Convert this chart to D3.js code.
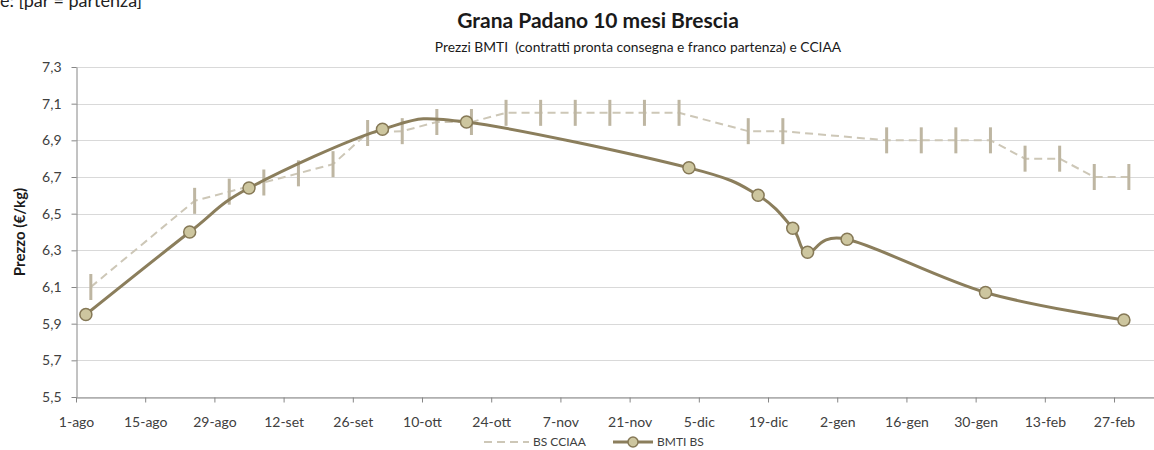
<!DOCTYPE html>
<html><head><meta charset="utf-8">
<script src="https://cdn.jsdelivr.net/npm/d3@7"></script>
<style>body{margin:0;background:#fff} svg{display:block}</style>
</head><body>
<svg id="c" width="1154" height="450"></svg>
<script>
// ---- data ----
const cciaaDates = ["2014-08-04","2014-08-25","2014-09-01","2014-09-08","2014-09-15","2014-09-22","2014-09-29","2014-10-06","2014-10-13","2014-10-20","2014-10-27","2014-11-03","2014-11-10","2014-11-17","2014-11-24","2014-12-01","2014-12-15","2014-12-22","2015-01-12","2015-01-19","2015-01-26","2015-02-02","2015-02-09","2015-02-16","2015-02-23","2015-03-02"];
const cciaaValues = [6.10,6.57,6.62,6.67,6.72,6.77,6.94,6.95,7.00,7.00,7.05,7.05,7.05,7.05,7.05,7.05,6.95,6.95,6.90,6.90,6.90,6.90,6.80,6.80,6.70,6.70];
const bmtiDates = ["2014-08-03","2014-08-24","2014-09-05","2014-10-02","2014-10-19","2014-12-03","2014-12-17","2014-12-24","2014-12-27","2015-01-04","2015-02-01","2015-03-01"];
const bmtiValues = [5.95,6.40,6.64,6.96,7.00,6.75,6.60,6.42,6.29,6.36,6.07,5.92];
const yTicks = [5.5,5.7,5.9,6.1,6.3,6.5,6.7,6.9,7.1,7.3];
const xTickDates = ["2014-08-01","2014-08-15","2014-08-29","2014-09-12","2014-09-26","2014-10-10","2014-10-24","2014-11-07","2014-11-21","2014-12-05","2014-12-19","2015-01-02","2015-01-16","2015-01-30","2015-02-13","2015-02-27"];
const xTickLabels = ["1-ago","15-ago","29-ago","12-set","26-set","10-ott","24-ott","7-nov","21-nov","5-dic","19-dic","2-gen","16-gen","30-gen","13-feb","27-feb"];
const xDomain = ["2014-08-01","2015-03-13"];
const yDomain = [5.5,7.3];
const titleText = "Grana Padano 10 mesi Brescia";
const subtitleText = "Prezzi BMTI  (contratti pronta consegna e franco partenza) e CCIAA";
const topNote = "e: [par = partenza]";
const yTitle = "Prezzo (€/kg)";
const seriesNames = ["BS CCIAA","BMTI BS"];

// ---- chart ----
const parse = d3.utcParse("%Y-%m-%d");
const FONT = "Lato, 'Open Sans', sans-serif";
const W = 1154, plotLeft = 76, plotTop = 67, plotBottom = 397;
const svg = d3.select("#c").style("font-family", FONT);

const x = d3.scaleUtc().domain(xDomain.map(parse)).range([plotLeft, plotLeft + 224 * 4.943]);
const y = d3.scaleLinear().domain(yDomain).range([plotBottom, plotTop]);

// gridlines
svg.append("g").selectAll("line").data(yTicks).join("line")
  .attr("x1", plotLeft).attr("x2", W)
  .attr("y1", d => Math.round(y(d)) + 0.5).attr("y2", d => Math.round(y(d)) + 0.5)
  .attr("stroke", "#d9d9d9").attr("stroke-width", 1);

// y axis
const yAxis = svg.append("g").attr("transform", `translate(${plotLeft + 0.5},0)`)
  .call(d3.axisLeft(y).tickValues(yTicks).tickSize(5).tickSizeOuter(0).tickPadding(10)
    .tickFormat(d => d3.format(".1f")(d).replace(".", ",")));
yAxis.select(".domain").attr("stroke", "#868686");
yAxis.selectAll(".tick line").attr("stroke", "#868686");
yAxis.selectAll(".tick text").attr("fill", "#404040").style("font-size", "14px").style("font-family", FONT);

// x axis
const xAxis = svg.append("g").attr("transform", `translate(0,${plotBottom + 0.5})`)
  .call(d3.axisBottom(x).tickValues(xTickDates.map(parse)).tickSize(5).tickSizeOuter(0).tickPadding(15)
    .tickFormat((d, i) => xTickLabels[i]));
xAxis.select(".domain").attr("stroke", "#868686");
xAxis.selectAll(".tick line").attr("stroke", "#868686");
xAxis.selectAll(".tick text").attr("fill", "#404040").style("font-size", "14px").style("font-family", FONT);

// CCIAA dashed line with bar markers
const cciaa = cciaaDates.map((d, i) => ({ d: parse(d), v: cciaaValues[i] }));
svg.append("path").datum(cciaa)
  .attr("d", d3.line().x(p => x(p.d)).y(p => y(p.v)))
  .attr("fill", "none").attr("stroke", "#cdc7b7").attr("stroke-width", 2).attr("stroke-dasharray", "8,5");
svg.append("g").selectAll("rect").data(cciaa).join("rect")
  .attr("x", p => x(p.d) - 1.5).attr("y", p => y(p.v) - 13)
  .attr("width", 3).attr("height", 26).attr("fill", "#beb6a2");

// BMTI smooth line with circles
const bmti = bmtiDates.map((d, i) => ({ d: parse(d), v: bmtiValues[i] }));
svg.append("path").datum(bmti)
  .attr("d", d3.line().x(p => x(p.d)).y(p => y(p.v)).curve(d3.curveCardinal.tension(0)))
  .attr("fill", "none").attr("stroke", "#8b7e5c").attr("stroke-width", 3);
svg.append("g").selectAll("circle").data(bmti).join("circle")
  .attr("cx", p => x(p.d)).attr("cy", p => y(p.v)).attr("r", 6)
  .attr("fill", "#cdc69f").attr("stroke", "#857856").attr("stroke-width", 1.5);

// titles
svg.append("text").attr("x", 598).attr("y", 28).attr("text-anchor", "middle")
  .style("font-size", "21px").style("font-weight", "bold").attr("fill", "#1a1a1a").text(titleText);
svg.append("text").attr("x", 638).attr("y", 52).attr("text-anchor", "middle")
  .style("font-size", "13.8px").style("white-space", "pre").attr("fill", "#1a1a1a").text(subtitleText);
svg.append("text").attr("x", 0).attr("y", 7)
  .style("font-size", "18px").attr("fill", "#222").text(topNote);
svg.append("text").attr("transform", "translate(25,232) rotate(-90)").attr("text-anchor", "middle")
  .style("font-size", "15px").style("font-weight", "bold").attr("fill", "#1a1a1a").text(yTitle);

// legend
const lg = svg.append("g");
lg.append("line").attr("x1", 484).attr("x2", 529).attr("y1", 442).attr("y2", 442)
  .attr("stroke", "#cdc7b7").attr("stroke-width", 2).attr("stroke-dasharray", "8,5");
lg.append("text").attr("x", 533).attr("y", 446).style("font-size", "12px").attr("fill", "#404040").text(seriesNames[0]);
lg.append("line").attr("x1", 613).attr("x2", 653).attr("y1", 442).attr("y2", 442)
  .attr("stroke", "#8b7e5c").attr("stroke-width", 3);
lg.append("circle").attr("cx", 633).attr("cy", 442).attr("r", 5)
  .attr("fill", "#cdc69f").attr("stroke", "#857856").attr("stroke-width", 1.5);
lg.append("text").attr("x", 657).attr("y", 446).style("font-size", "12px").attr("fill", "#404040").text(seriesNames[1]);
</script>
</body></html>
